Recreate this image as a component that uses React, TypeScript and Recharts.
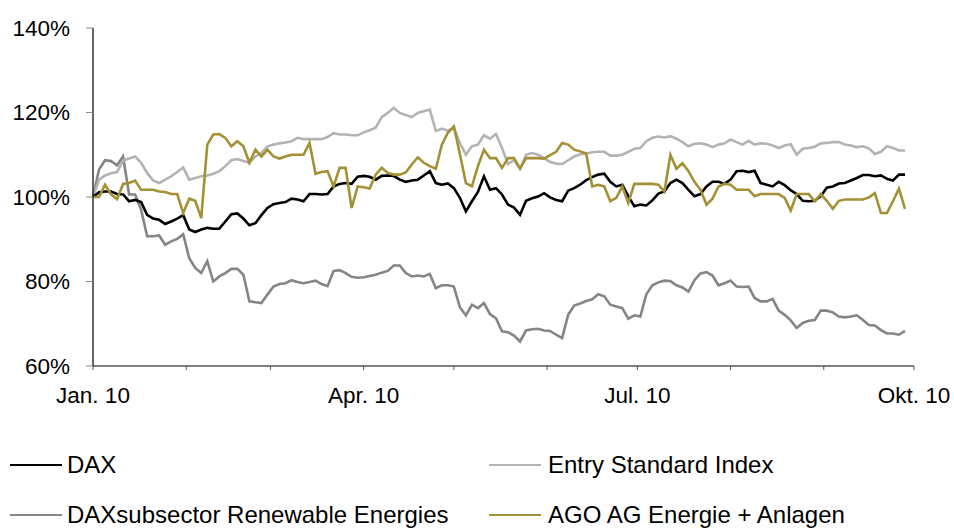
import React from "react";
import { LineChart, Line, XAxis, YAxis } from "recharts";

// day of year 2010 (0 = 1 Jan), sampled every 2 days
const days: number[] = Array.from({ length: 136 }, (_, i) => i * 2);

const dax: number[] = [
  100.0, 101.1, 101.3, 101.3, 100.7, 100.6, 99.0, 99.3, 98.8, 95.8,
  94.9, 94.6, 93.6, 94.2, 94.9, 95.7, 92.3, 91.7, 92.3, 92.7,
  92.5, 92.5, 94.2, 95.9, 96.1, 94.9, 93.3, 93.8, 95.7, 97.4,
  98.3, 98.6, 98.8, 99.6, 99.4, 99.0, 100.7, 100.7, 100.6, 100.7,
  102.5, 103.1, 103.3, 103.1, 104.8, 105.0, 104.8, 104.1, 105.0, 105.1,
  105.0, 104.1, 103.6, 103.9, 104.1, 105.1, 106.1, 103.3, 102.9, 103.2,
  102.1, 99.8, 96.6, 99.0, 101.2, 104.9, 101.7, 102.1, 100.6, 98.2,
  97.5, 95.8, 99.1, 99.7, 100.1, 100.9, 99.9, 99.3, 99.0, 101.5,
  102.1, 102.9, 104.0, 104.7, 105.3, 105.5, 103.6, 102.5, 102.9, 100.2,
  97.8, 98.2, 98.0, 99.2, 100.8, 101.3, 103.3, 104.1, 103.3, 101.7,
  100.2, 100.7, 102.5, 103.6, 103.6, 103.1, 104.1, 106.1, 106.2, 105.9,
  106.2, 103.3, 102.9, 102.5, 103.6, 102.8, 101.6, 100.7, 99.1, 99.0,
  99.1, 100.2, 102.2, 102.5, 103.2, 103.3, 103.9, 104.5, 105.2, 105.2,
  104.9, 105.1, 104.3, 103.9, 105.3, 105.3,
];

const entryStandard: number[] = [
  100.0, 104.1, 105.1, 105.6, 105.9, 108.6, 109.1, 109.6, 108.1, 105.7,
  103.9, 103.3, 104.1, 104.9, 105.9, 107.0, 104.1, 104.5, 104.9, 105.1,
  105.5, 106.1, 107.3, 108.7, 109.0, 108.5, 108.1, 109.6, 110.4, 112.0,
  112.4, 112.7, 112.9, 113.2, 114.0, 113.7, 113.7, 113.7, 113.7, 114.2,
  115.1, 114.8, 114.8, 114.6, 114.6, 115.3, 115.8, 116.4, 118.9, 119.9,
  121.1, 119.9, 119.4, 118.9, 119.9, 120.3, 120.7, 115.6, 116.2, 115.7,
  116.4, 112.8, 110.0, 112.0, 112.4, 114.6, 113.8, 114.9, 111.6, 107.8,
  108.7, 106.7, 110.0, 110.4, 110.0, 109.2, 108.3, 107.9, 107.8, 108.7,
  109.6, 110.1, 110.3, 110.6, 110.7, 110.7, 109.8, 109.8, 110.0, 110.7,
  111.4, 111.6, 113.2, 114.0, 114.3, 114.1, 114.4, 113.8, 113.0, 112.0,
  112.6, 112.7, 112.4, 111.8, 112.4, 112.7, 113.6, 113.0, 112.4, 113.3,
  112.4, 112.7, 112.6, 112.2, 111.6, 112.2, 112.5, 110.0, 111.4, 111.6,
  111.9, 112.7, 112.8, 113.0, 113.0, 112.4, 112.2, 111.8, 112.0, 111.5,
  110.2, 110.7, 112.0, 111.6, 111.0, 111.0,
];

const renewables: number[] = [
  100.0, 106.5, 108.7, 108.5, 107.5, 109.6, 100.6, 100.6, 97.0, 90.7,
  90.7, 90.9, 88.7, 89.5, 90.1, 91.2, 85.5, 83.2, 82.0, 84.8,
  80.0, 81.2, 82.0, 83.0, 83.0, 81.6, 75.3, 75.1, 74.9, 76.9,
  78.8, 79.4, 79.6, 80.3, 79.9, 79.6, 79.9, 80.2, 79.4, 78.9,
  82.5, 82.7, 82.0, 81.1, 80.9, 81.0, 81.3, 81.6, 82.1, 82.5,
  83.8, 83.8, 82.0, 81.2, 81.4, 81.2, 81.8, 78.4, 79.1, 79.1,
  78.8, 73.9, 72.0, 74.5, 73.7, 74.9, 72.3, 71.3, 68.2, 68.0,
  67.2, 65.8, 68.4, 68.7, 68.8, 68.4, 68.3, 67.4, 66.6, 72.1,
  74.3, 74.8, 75.4, 75.8, 77.0, 76.5, 74.5, 74.1, 73.7, 71.2,
  72.0, 71.7, 77.0, 79.1, 79.8, 80.2, 80.1, 79.1, 78.6, 77.6,
  80.3, 81.9, 82.2, 81.4, 79.1, 79.6, 80.2, 78.8, 78.7, 78.8,
  76.1, 75.3, 75.3, 75.9, 73.1, 72.1, 70.8, 69.0, 70.2, 70.7,
  70.9, 73.1, 73.1, 72.7, 71.7, 71.5, 71.7, 72.0, 70.9, 69.7,
  69.6, 68.5, 67.7, 67.7, 67.4, 68.3,
];

const ago: number[] = [
  100.0, 100.0, 102.9, 100.6, 99.5, 103.1, 103.3, 103.9, 101.7, 101.7,
  101.7, 101.3, 101.2, 100.7, 100.7, 96.2, 99.6, 99.1, 95.0, 112.4,
  114.8, 114.9, 114.0, 112.0, 113.2, 112.0, 108.1, 111.2, 109.6, 111.2,
  109.6, 109.1, 109.6, 110.0, 110.0, 110.0, 112.8, 105.5, 105.9, 106.1,
  102.5, 106.9, 106.9, 97.4, 102.5, 102.3, 102.0, 105.3, 106.9, 105.7,
  105.3, 105.3, 105.8, 107.7, 109.4, 108.1, 107.3, 106.7, 112.4, 115.2,
  116.7, 110.2, 103.3, 102.5, 107.3, 111.2, 109.2, 109.2, 106.9, 109.2,
  109.2, 106.7, 109.2, 109.2, 109.2, 109.1, 109.9, 110.7, 112.8, 112.4,
  111.2, 110.8, 110.3, 102.5, 102.9, 102.5, 99.0, 99.8, 102.5, 98.6,
  103.1, 103.1, 103.1, 103.1, 102.9, 101.3, 110.0, 106.7, 108.0, 106.1,
  103.6, 101.7, 98.2, 99.6, 102.5, 103.1, 102.9, 101.7, 101.7, 101.7,
  100.2, 100.7, 100.7, 100.7, 100.7, 99.8, 96.8, 100.7, 100.7, 100.7,
  99.0, 100.7, 99.1, 97.2, 99.1, 99.4, 99.4, 99.4, 99.4, 99.9,
  100.9, 96.2, 96.2, 99.0, 102.0, 97.2,
];

const monthTicks: number[] = [0, 31, 59, 90, 120, 151, 181, 212, 243, 273];
const monthLabels: Record<number, string> = { 0: "Jan. 10", 90: "Apr. 10", 181: "Jul. 10", 273: "Okt. 10" };
const yTicks: number[] = [60, 80, 100, 120, 140];

const seriesNames = ["DAX", "Entry Standard Index", "DAXsubsector Renewable Energies", "AGO AG Energie + Anlagen"];
const seriesColors = ["#000000", "#b3b3b3", "#858585", "#a39135"];

const data = days.map((d, i) => ({
  day: d,
  dax: dax[i],
  entry: entryStandard[i],
  renew: renewables[i],
  ago: ago[i],
}));

const FONT = '"Liberation Sans", Arial, sans-serif';

const legendPos = [
  { lx: 10, tx: 67, y: 465 },
  { lx: 489, tx: 548, y: 465 },
  { lx: 10, tx: 67, y: 515 },
  { lx: 489, tx: 548, y: 515 },
];

export default function App() {
  return (
    <div style={{ position: "absolute", left: 0, top: 0, width: 954, height: 528, background: "#fff" }}>
      <LineChart width={954} height={528} data={data} margin={{ top: 28, right: 40, left: 0, bottom: 132 }}>
        <XAxis
          dataKey="day"
          type="number"
          domain={[0, 273]}
          ticks={monthTicks}
          interval={0}
          tickFormatter={(v: number) => monthLabels[v] ?? ""}
          axisLine={{ stroke: "#000", strokeWidth: 1.2 }}
          tickLine={{ stroke: "#555" }}
          tickSize={4}
          tickMargin={17}
          height={30}
          tick={{ fill: "#000", fontSize: 22.5, fontFamily: FONT }}
        />
        <YAxis
          type="number"
          domain={[60, 140]}
          ticks={yTicks}
          interval={0}
          width={93}
          tickFormatter={(v: number) => `${v}%`}
          axisLine={{ stroke: "#000", strokeWidth: 1.2 }}
          tickLine={{ stroke: "#888" }}
          tickSize={7}
          tickMargin={16}
          tick={{ fill: "#000", fontSize: 22.5, fontFamily: FONT }}
        />
        <Line type="linear" dataKey="renew" stroke={seriesColors[2]} strokeWidth={2.6} dot={false} isAnimationActive={false} />
        <Line type="linear" dataKey="entry" stroke={seriesColors[1]} strokeWidth={2.6} dot={false} isAnimationActive={false} />
        <Line type="linear" dataKey="dax" stroke={seriesColors[0]} strokeWidth={2.6} dot={false} isAnimationActive={false} />
        <Line type="linear" dataKey="ago" stroke={seriesColors[3]} strokeWidth={2.6} dot={false} isAnimationActive={false} />
      </LineChart>
      {seriesNames.map((name, i) => (
        <React.Fragment key={name}>
          <div
            style={{
              position: "absolute",
              left: legendPos[i].lx,
              top: legendPos[i].y - 1.25,
              width: 52,
              height: 2.5,
              background: seriesColors[i],
            }}
          />
          <div
            style={{
              position: "absolute",
              left: legendPos[i].tx,
              top: legendPos[i].y - 14,
              height: 28,
              lineHeight: "28px",
              fontSize: 24,
              fontFamily: FONT,
              color: "#000",
              whiteSpace: "nowrap",
            }}
          >
            {name}
          </div>
        </React.Fragment>
      ))}
    </div>
  );
}
